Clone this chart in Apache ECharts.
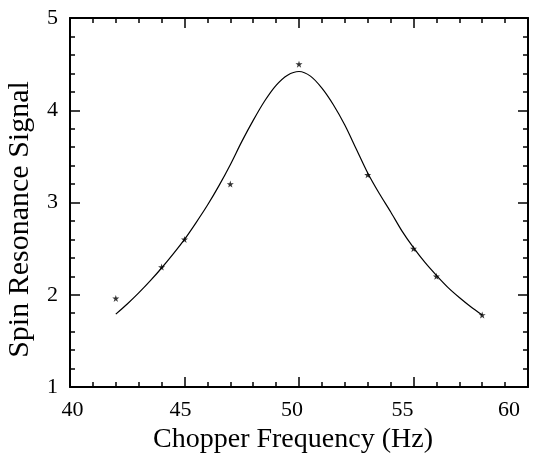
<!DOCTYPE html>
<html>
<head>
<meta charset="utf-8">
<script src="https://cdn.jsdelivr.net/npm/echarts@6/dist/echarts.min.js"></script>
<style>html,body{margin:0;padding:0;background:#fff;overflow:hidden;}#chart{width:535px;height:454px;}</style>
</head>
<body>
<div id="chart"></div>
<script>
// Measured data points (stars)
const freqs  = [42, 44, 45, 47, 50, 53, 55, 56, 58];
const signal = [1.96, 2.30, 2.60, 3.20, 4.50, 3.30, 2.50, 2.20, 1.78];

// Fit curve
const fitFreq = [42, 42.5, 43, 43.5, 44, 44.5, 45, 45.5, 46, 46.5, 47, 47.5, 48, 48.5, 49, 49.5, 50,
                 50.5, 51, 51.5, 52, 52.5, 53, 53.5, 54, 54.5, 55, 55.5, 56, 56.5, 57, 57.5, 58];
const fitSignal = [1.79, 1.90, 2.02, 2.15, 2.29, 2.44, 2.60, 2.78, 2.97, 3.18, 3.41, 3.66, 3.89, 4.10, 4.27, 4.38, 4.42,
                   4.37, 4.24, 4.06, 3.84, 3.58, 3.32, 3.10, 2.90, 2.69, 2.51, 2.35, 2.21, 2.08, 1.97, 1.87, 1.78];

// Tick labels
const xTickLabels = ['40', '45', '50', '55', '60'];
const yTickLabels = ['1', '2', '3', '4', '5'];

const xTitle = 'Chopper Frequency (Hz)';
const yTitle = 'Spin Resonance Signal';

const font = '"Liberation Serif", "Times New Roman", serif';
const starPath = 'path://M50,0 L61.8,35.4 L100,35.4 L69.1,57.3 L80.9,92.7 L50,70.8 L19.1,92.7 L30.9,57.3 L0,35.4 L38.2,35.4 Z';

const axisLine = { show: true, onZero: false, lineStyle: { color: '#000', width: 2 } };
const axisTick = { show: true, inside: true, length: 10, lineStyle: { color: '#000', width: 1.5 } };
const minorTick = { show: true, splitNumber: 5, length: 5, lineStyle: { color: '#000', width: 1.5 } };

// label offsets as in the reference (labels sit slightly left of their ticks)
const xPads = [[0, 0, 0, 5], [0, 8, 0, 0], [0, 14, 0, 0], [0, 22, 0, 0], [0, 38, 0, 0]];
const xRich = {};
xTickLabels.forEach((t, i) => {
  xRich['t' + i] = { color: '#000', fontFamily: font, fontSize: 22, padding: xPads[i] };
});

const chart = echarts.init(document.getElementById('chart'), null, { renderer: 'canvas' });
chart.setOption({
  animation: false,
  backgroundColor: '#fff',
  grid: { left: 70, right: 7, top: 18, bottom: 67, containLabel: false, outerBoundsMode: 'none' },
  xAxis: [{
    type: 'value', min: 40, max: 60, interval: 5, position: 'bottom',
    axisLine, axisTick, minorTick,
    splitLine: { show: false },
    axisLabel: {
      color: '#000', fontFamily: font, fontSize: 22, margin: 12,
      formatter: v => {
        const i = Math.round((v - 40) / 5);
        return '{t' + i + '|' + xTickLabels[i] + '}';
      },
      rich: xRich
    },
    name: xTitle, nameLocation: 'middle', nameGap: 36,
    nameTextStyle: { color: '#000', fontFamily: font, fontSize: 28, padding: [0, 12, 0, 0] }
  }, {
    type: 'value', min: 40, max: 60, interval: 5, position: 'top',
    axisLine, axisTick, minorTick,
    splitLine: { show: false }, axisLabel: { show: false }
  }],
  yAxis: [{
    type: 'value', min: 1, max: 5, interval: 1, position: 'left',
    axisLine, axisTick, minorTick,
    splitLine: { show: false },
    axisLabel: {
      color: '#000', fontFamily: font, fontSize: 22, margin: 12,
      formatter: v => yTickLabels[Math.round(v - 1)]
    },
    name: yTitle, nameLocation: 'middle', nameGap: 35,
    nameTextStyle: { color: '#000', fontFamily: font, fontSize: 30, padding: [0, 34, 0, 0] }
  }, {
    type: 'value', min: 1, max: 5, interval: 1, position: 'right',
    axisLine, axisTick, minorTick,
    splitLine: { show: false }, axisLabel: { show: false }
  }],
  series: [{
    type: 'line',
    data: fitFreq.map((f, i) => [f, fitSignal[i]]),
    smooth: 0.3,
    showSymbol: false,
    lineStyle: { color: '#000', width: 1.2 },
    z: 2
  }, {
    type: 'scatter',
    data: freqs.map((f, i) => [f, signal[i]]),
    symbol: starPath,
    symbolSize: 7,
    itemStyle: { color: '#000' },
    z: 3
  }]
});
</script>
</body>
</html>
